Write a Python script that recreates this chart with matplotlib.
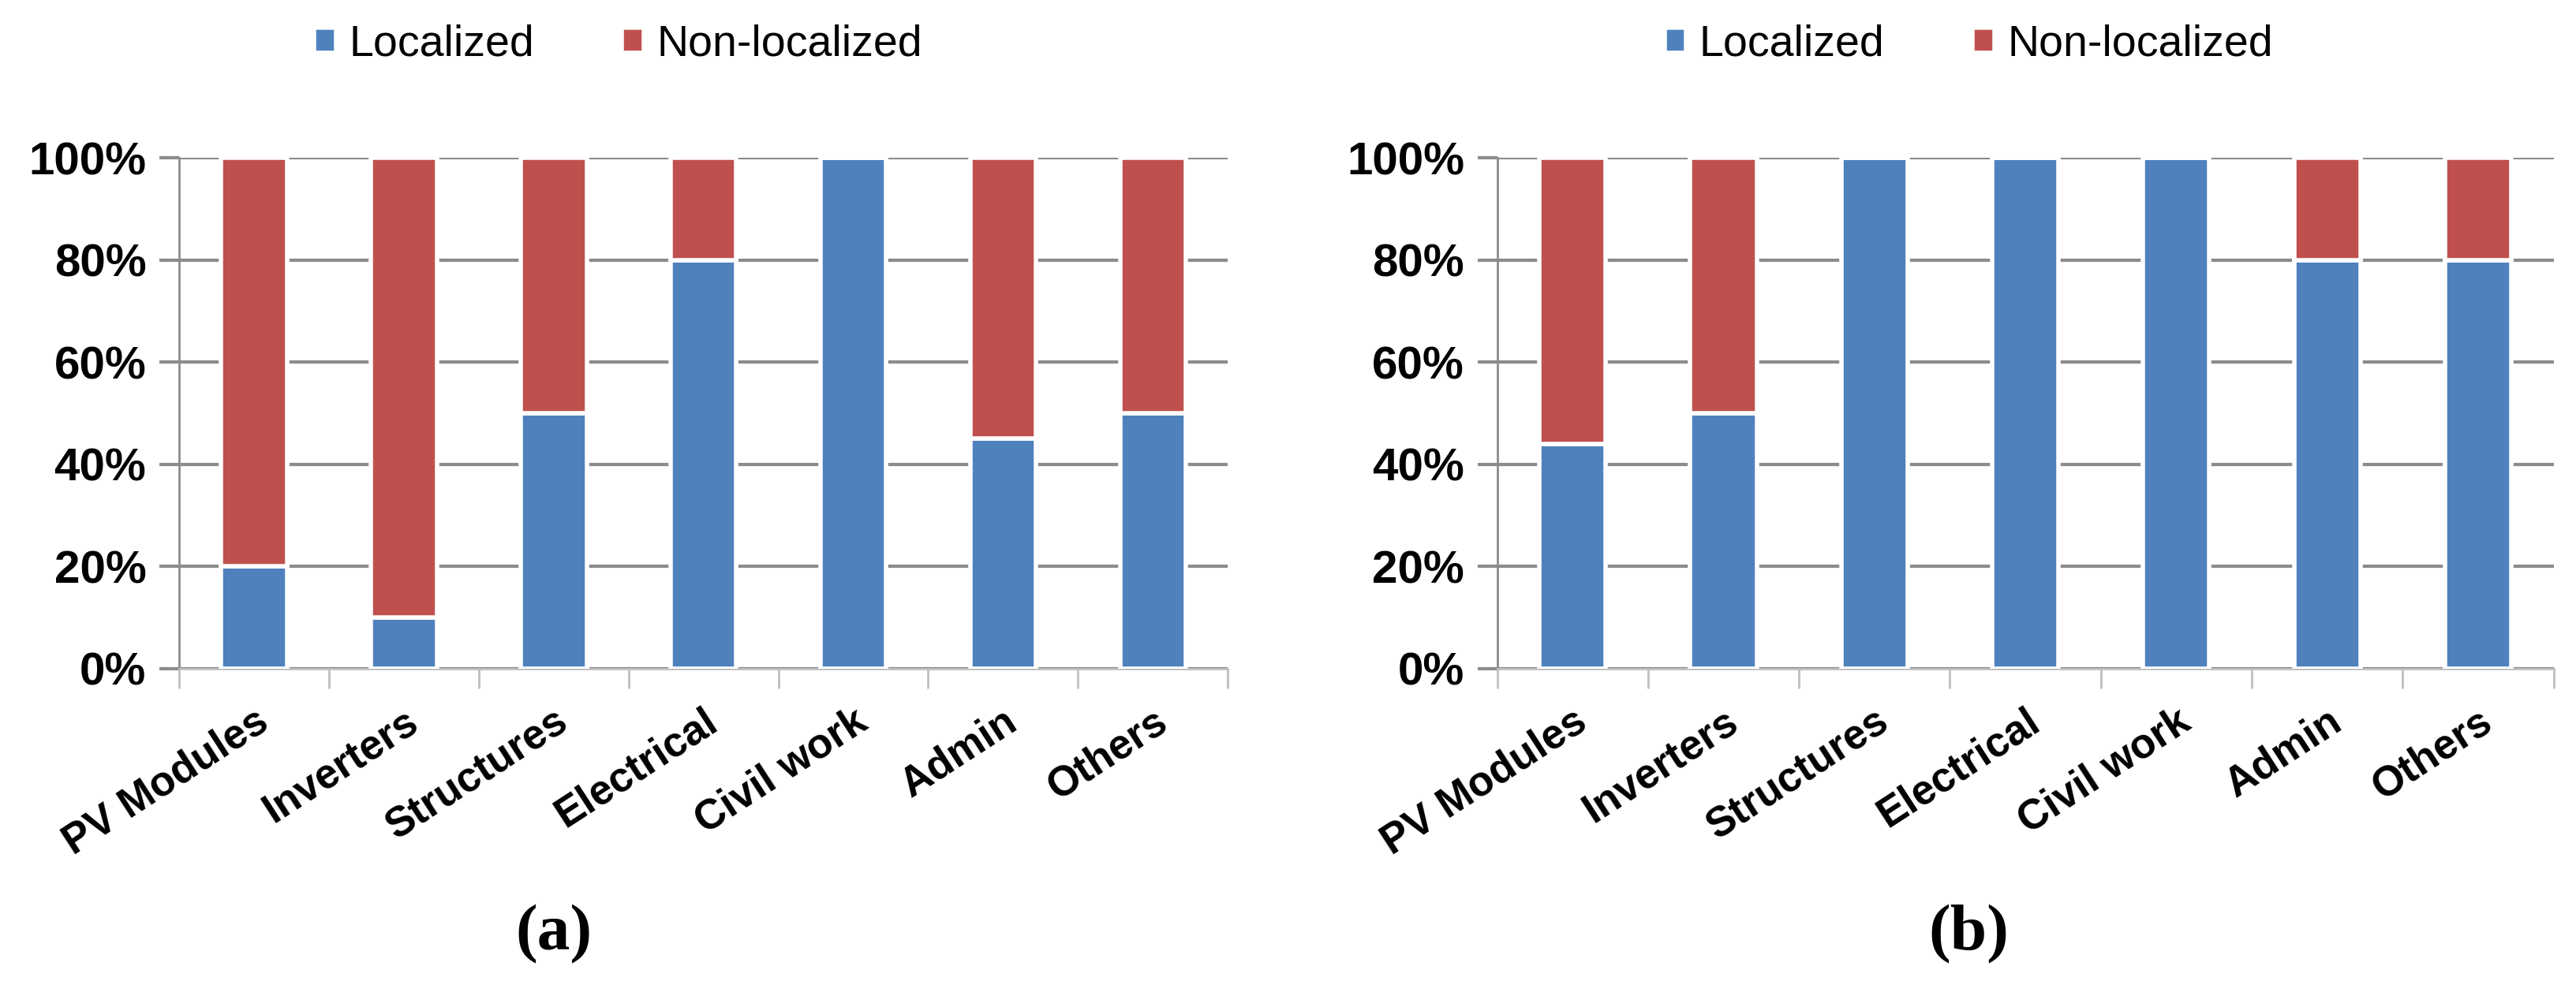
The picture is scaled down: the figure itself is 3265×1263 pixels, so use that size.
import numpy as np
import matplotlib.pyplot as plt
from matplotlib.ticker import PercentFormatter, FixedLocator

categories = ['PV Modules', 'Inverters', 'Structures', 'Electrical', 'Civil work', 'Admin', 'Others']
localized_a = [20, 10, 50, 80, 100, 45, 50]
localized_b = [44, 50, 100, 100, 100, 80, 80]

BLUE = '#4F81BD'
RED = '#C0504D'
GRID = '#8C8C8C'
FONT = ['Liberation Sans Narrow', 'Liberation Sans', 'DejaVu Sans']

plt.rcParams['font.family'] = FONT

fig = plt.figure(figsize=(32.66, 12.63), dpi=100)


def draw_panel(rect, localized, caption, cap_x, leg_x):
    ax = fig.add_axes(rect)
    x = np.arange(len(categories))
    loc = np.array(localized)
    non = 100 - loc
    b1 = ax.bar(x, loc, width=0.44, color=BLUE, edgecolor='white', linewidth=4, zorder=3)
    b2 = ax.bar(x, non, bottom=loc, width=0.44, color=RED, edgecolor='white', linewidth=4, zorder=3)
    ax.set_xlim(-0.5, len(categories) - 0.5)
    ax.set_ylim(0, 100)
    ax.yaxis.set_major_locator(FixedLocator([0, 20, 40, 60, 80, 100]))
    ax.yaxis.set_major_formatter(PercentFormatter(decimals=0))
    ax.grid(axis='y', color=GRID, linewidth=3, zorder=1)
    ax.set_axisbelow(True)
    for s in ['top', 'right']:
        ax.spines[s].set_visible(False)
    ax.spines['left'].set_color(GRID)
    ax.spines['bottom'].set_color('#BFBFBF')
    ax.spines['left'].set_linewidth(2)
    ax.spines['bottom'].set_linewidth(2)
    ax.tick_params(axis='y', length=18, width=3, color=GRID, labelsize=42, pad=12)
    ax.set_xticks(x)
    ax.set_xticklabels(categories, rotation=33, ha='right', rotation_mode='anchor',
                       fontsize=38, fontweight='bold')
    ax.set_xticks(np.arange(-0.5, len(categories)), minor=True)
    ax.tick_params(axis='x', which='major', length=0, pad=30)
    ax.tick_params(axis='x', which='minor', length=18, width=2, color='#BFBFBF')
    for t in ax.get_yticklabels():
        t.set_fontweight('bold')
    fig.legend([b1, b2], ['Localized', 'Non-localized'], loc='center',
               bbox_to_anchor=(leg_x, 0.955), ncol=2, frameon=False, fontsize=40,
               handlelength=0.5, handleheight=0.5, handletextpad=0.3, columnspacing=2.0)
    fig.text(cap_x, 0.062, caption, ha='center', va='center', fontsize=60,
             fontweight='bold', family=['Liberation Serif', 'DejaVu Serif'])
    return ax


draw_panel([0.0695, 0.3286, 0.407, 0.513], localized_a, '(a)', 0.215, 0.24)
draw_panel([0.581, 0.3286, 0.410, 0.513], localized_b, '(b)', 0.764, 0.764)

fig.savefig('out.png', dpi=100)
